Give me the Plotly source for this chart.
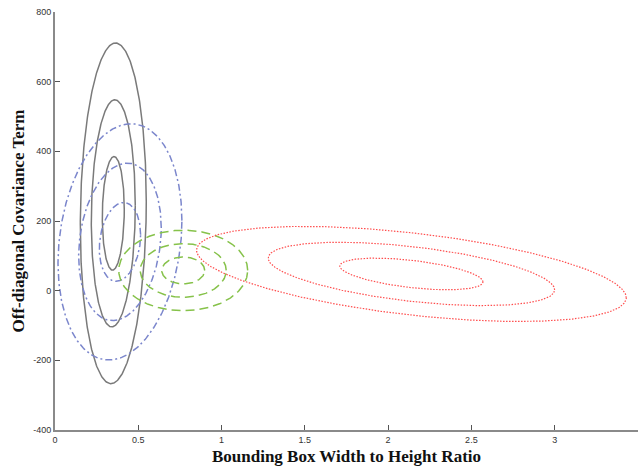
import numpy as np
import plotly.graph_objects as go

# Gaussian class parameters
class_names = ["gray", "blue", "green", "red"]
mean_x = [0.35, 0.39, 0.77, 2.14]
mean_y = [222, 140, 58, 48]
sigma_x = [0.066, 0.124, 0.129, 0.43]
sigma_y = [163, 113, 38.5, 45.5]
corr = [0.07, 0.18, 0.0, -0.5]
contour_levels = [1, 2, 3]

x_ticks = [0, 0.5, 1, 1.5, 2, 2.5, 3, 3.5]
x_tick_text = ["0", "0.5", "1", "1.5", "2", "2.5", "3", "3.5"]
y_ticks = [-400, -200, 0, 200, 400, 600, 800]
y_tick_text = ["-400", "-200", "0", "200", "400", "600", "800"]

styles = {
    "gray": dict(color="#7a7a7a", width=1.5, dash="solid"),
    "blue": dict(color="#7b86cc", width=1.5, dash="7px,3px,2px,3px"),
    "green": dict(color="#86c24a", width=1.5, dash="9px,5px"),
    "red": dict(color="#ff4d4d", width=1.2, dash="1.5px,1.5px"),
}


def ellipse(mx, my, sx, sy, r, k, n=400):
    cov = np.array([[sx * sx, r * sx * sy], [r * sx * sy, sy * sy]])
    L = np.linalg.cholesky(cov)
    t = np.linspace(0, 2 * np.pi, n)
    circ = np.vstack([np.cos(t), np.sin(t)]) * k
    pts = L @ circ
    return pts[0] + mx, pts[1] + my


fig = go.Figure()
for i, name in enumerate(class_names):
    for k in contour_levels:
        ex, ey = ellipse(mean_x[i], mean_y[i], sigma_x[i], sigma_y[i], corr[i], k)
        fig.add_trace(go.Scatter(x=ex, y=ey, mode="lines", line=styles[name],
                                 showlegend=False, hoverinfo="skip"))

axis_common = dict(
    showgrid=False, zeroline=False, showline=True, linecolor="#8a8a8a", linewidth=2,
    ticks="inside", ticklen=5, tickcolor="#555", tickwidth=1,
    tickfont=dict(family="Liberation Sans, Arial", size=9, color="#333"),
    mirror=False, automargin=False,
)

fig.update_layout(
    width=641, height=467,
    margin=dict(l=55, r=3, t=12, b=37),
    paper_bgcolor="white", plot_bgcolor="white",
    xaxis=dict(range=[0, 3.5005], tickvals=x_ticks, ticktext=x_tick_text,
               title=dict(text="<b>Bounding Box Width to Height Ratio</b>",
                          font=dict(family="Liberation Serif, Times New Roman", size=17, color="#111"),
                          standoff=6),
               **axis_common),
    yaxis=dict(range=[-400, 800], tickvals=y_ticks, ticktext=y_tick_text,
               title=dict(text="<b>Off-diagonal Covariance Term</b>",
                          font=dict(family="Liberation Serif, Times New Roman", size=17, color="#111"),
                          standoff=4),
               **axis_common),
)

fig.write_html("out.html", config={"displayModeBar": False},
               post_script="document.body.style.margin='0';document.body.style.overflow='hidden';")
